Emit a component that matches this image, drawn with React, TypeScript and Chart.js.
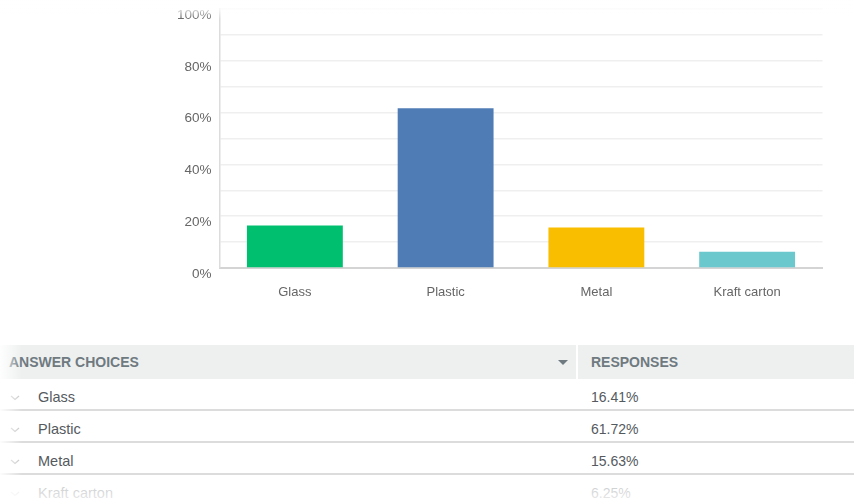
import React, { useEffect, useRef } from 'react';
import { Chart, registerables } from 'chart.js';

Chart.register(...registerables);

const categories = ['Glass', 'Plastic', 'Metal', 'Kraft carton'];
const responses = [16.41, 61.72, 15.63, 6.25];
const responseLabels = ['16.41%', '61.72%', '15.63%', '6.25%'];
const barColors = ['#00BF6F', '#507CB6', '#F9BE00', '#6BC8CD'];
const yMin = 0;
const yMax = 100;
const yStep = 10;
const yLabelEvery = 20;

const FONT = '"Liberation Sans", Arial, sans-serif';

function Chevron() {
  return (
    <svg width="10" height="6" viewBox="0 0 10 6" style={{ display: 'block' }}>
      <path d="M1 1 L5 4.5 L9 1" stroke="#c8c8c8" strokeWidth="1.3" fill="none" />
    </svg>
  );
}

export default function App() {
  const canvasRef = useRef<HTMLCanvasElement | null>(null);

  useEffect(() => {
    const canvas = canvasRef.current;
    if (!canvas) return;
    const chart = new Chart(canvas, {
      type: 'bar',
      data: {
        labels: categories,
        datasets: [
          {
            data: responses,
            backgroundColor: barColors,
            borderWidth: 0,
            barPercentage: 0.636,
            categoryPercentage: 1,
          },
        ],
      },
      options: {
        animation: false,
        responsive: false,
        maintainAspectRatio: false,
        layout: { padding: { left: 0, right: 31.5, top: 9, bottom: 0 } },
        plugins: { legend: { display: false }, tooltip: { enabled: false } },
        scales: {
          x: {
            grid: { display: false, drawTicks: false },
            border: { display: true, color: '#d4d4d4', width: 2 },
            ticks: { color: '#666666', font: { family: FONT, size: 13 }, padding: 17 },
            afterFit: (s: any) => {
              s.height = 42;
            },
          },
          y: {
            min: yMin,
            max: yMax,
            grid: { color: '#efefef', lineWidth: 1.5, drawTicks: false },
            border: { display: true, color: '#dcdcdc', width: 1.5 },
            ticks: {
              stepSize: yStep,
              color: '#666666',
              font: { family: FONT, size: 13.5 },
              padding: 8,
              labelOffset: 6,
              callback: (v: any) => (Number(v) % yLabelEvery === 0 ? `${v}%` : ''),
            },
            afterFit: (s: any) => {
              s.width = 219.5;
              s.paddingTop = 0;
              s.paddingBottom = 0;
            },
          },
        },
      },
    });
    return () => chart.destroy();
  }, []);

  const rowTop = 379;
  const rowH = 32;

  return (
    <div
      style={{
        position: 'fixed',
        left: 0,
        top: 0,
        width: 854,
        height: 499,
        background: '#ffffff',
        overflow: 'hidden',
        fontFamily: FONT,
      }}
    >
      <canvas ref={canvasRef} width={854} height={310} style={{ position: 'absolute', left: 0, top: 0 }} />
      {/* top fade */}
      <div
        style={{
          position: 'absolute',
          left: 0,
          top: 0,
          width: 854,
          height: 19,
          background: 'linear-gradient(to bottom, rgba(255,255,255,1), rgba(255,255,255,0.75) 50%, rgba(255,255,255,0))',
        }}
      />
      {/* table header */}
      <div
        style={{
          position: 'absolute',
          left: 0,
          top: 345,
          width: 854,
          height: 34,
          background: '#eef0f0',
        }}
      >
        <div
          style={{
            position: 'absolute',
            left: 9,
            top: 0,
            height: 34,
            lineHeight: '34px',
            fontSize: 14,
            fontWeight: 'bold',
            color: '#6f7a80',
          }}
        >
          ANSWER CHOICES
        </div>
        <svg width="10" height="6" viewBox="0 0 10 6" style={{ position: 'absolute', left: 558, top: 15 }}>
          <path d="M0 0 L10 0 L5 5 Z" fill="#6f7a80" />
        </svg>
        <div style={{ position: 'absolute', left: 576, top: 0, width: 2, height: 34, background: '#ffffff' }} />
        <div
          style={{
            position: 'absolute',
            left: 591,
            top: 0,
            height: 34,
            lineHeight: '34px',
            fontSize: 14,
            fontWeight: 'bold',
            color: '#6f7a80',
          }}
        >
          RESPONSES
        </div>
      </div>
      {/* rows */}
      {categories.map((c, i) => (
        <div
          key={c}
          style={{
            position: 'absolute',
            left: 0,
            top: rowTop + i * rowH,
            width: 854,
            height: rowH - 2,
            borderBottom: '2px solid #dcdcdc',
          }}
        >
          <div style={{ position: 'absolute', left: 10, top: 16 }}>
            <Chevron />
          </div>
          <div
            style={{
              position: 'absolute',
              left: 38,
              top: 3,
              height: rowH - 2,
              lineHeight: `${rowH - 2}px`,
              fontSize: 14.5,
              color: '#555a5e',
            }}
          >
            {c}
          </div>
          <div
            style={{
              position: 'absolute',
              left: 591,
              top: 3,
              height: rowH - 2,
              lineHeight: `${rowH - 2}px`,
              fontSize: 14,
              color: '#555a5e',
            }}
          >
            {responseLabels[i]}
          </div>
        </div>
      ))}
      {/* left fade */}
      <div
        style={{
          position: 'absolute',
          left: 0,
          top: 340,
          width: 22,
          height: 159,
          background: 'linear-gradient(to right, rgba(255,255,255,0.95), rgba(255,255,255,0))',
        }}
      />
      {/* bottom fade */}
      <div
        style={{
          position: 'absolute',
          left: 0,
          top: 477,
          width: 854,
          height: 22,
          background: 'linear-gradient(to bottom, rgba(255,255,255,0.6), rgba(255,255,255,0.85))',
        }}
      />
    </div>
  );
}
